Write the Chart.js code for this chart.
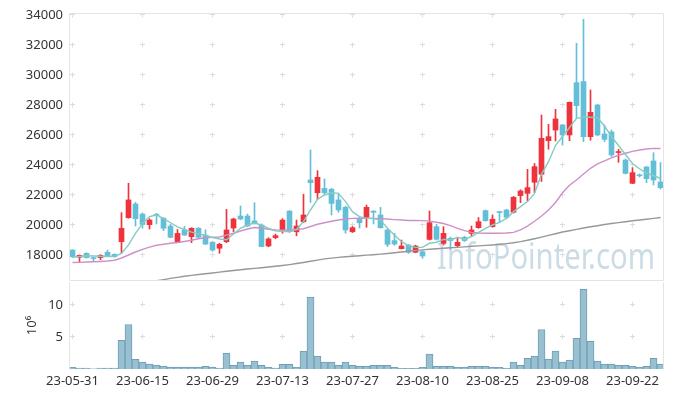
<!DOCTYPE html>
<html>
<head>
<meta charset="utf-8">
<script src="https://cdn.jsdelivr.net/npm/chart.js@4"></script>
<style>
  html, body { margin: 0; padding: 0; background: #fff; }
  #wrap { position: relative; width: 673px; height: 398px; }
  #priceChart { position: absolute; left: 0; top: 0; }
  #volChart { position: absolute; left: 0; top: 281px; }
</style>
</head>
<body>
<div id="wrap">
  <canvas id="priceChart" width="673" height="281"></canvas>
  <canvas id="volChart" width="673" height="117"></canvas>
</div>
<script>
// trading days
const dates = [
  '23-05-31','23-06-01','23-06-02','23-06-05','23-06-07','23-06-08','23-06-09','23-06-12','23-06-13','23-06-14',
  '23-06-15','23-06-16','23-06-19','23-06-20','23-06-21','23-06-22','23-06-23','23-06-26','23-06-27','23-06-28',
  '23-06-29','23-06-30','23-07-03','23-07-04','23-07-05','23-07-06','23-07-07','23-07-10','23-07-11','23-07-12',
  '23-07-13','23-07-14','23-07-17','23-07-18','23-07-19','23-07-20','23-07-21','23-07-24','23-07-25','23-07-26',
  '23-07-27','23-07-28','23-07-31','23-08-01','23-08-02','23-08-03','23-08-04','23-08-07','23-08-08','23-08-09',
  '23-08-10','23-08-11','23-08-14','23-08-16','23-08-17','23-08-18','23-08-21','23-08-22','23-08-23','23-08-24',
  '23-08-25','23-08-28','23-08-29','23-08-30','23-08-31','23-09-01','23-09-04','23-09-05','23-09-06','23-09-07',
  '23-09-08','23-09-11','23-09-12','23-09-13','23-09-14','23-09-15','23-09-18','23-09-19','23-09-20','23-09-21',
  '23-09-22','23-09-25','23-09-26','23-09-27','23-10-04'
];

const open = [
  18330,17850,18110,17800,17830,18180,18040,18890,20490,21400,
  20730,20020,20700,20450,19930,18890,19670,19220,19780,19330,
  18850,18450,18890,19800,20600,20600,20270,20000,18600,19160,
  19670,20930,19550,20220,23000,22150,22440,22380,21670,21180,
  19550,20440,20510,20930,20670,19670,18960,18420,18670,18180,
  18220,19040,19890,18780,19110,18620,19180,19440,19820,20960,
  19890,20870,21000,20850,21960,22110,22850,23380,25620,26330,
  26670,26000,29490,29560,25890,28000,26070,26200,24830,24330,
  22780,23330,23870,24270,22870
];
const high = [
  18350,18000,18150,17850,18020,18330,18080,20820,22780,21510,
  20800,20420,20780,20500,20050,19700,19900,19820,19830,19680,
  18900,18780,21040,20450,21270,20730,21480,20070,19150,19400,
  20420,20950,20330,22050,25000,23620,23070,22450,22070,21250,
  19900,20500,21330,20950,21180,19700,19450,19000,18700,18650,
  18300,20930,20050,19890,19200,19150,19250,19930,20500,21000,
  20670,20900,21050,21900,22350,23710,24100,27330,26710,27710,
  26700,28200,32110,33710,29000,28050,26670,26330,25050,24400,
  23820,23400,23900,24820,24160
];
const low = [
  17850,17560,17800,17620,17680,17900,17850,18110,20450,19930,
  19780,19730,20070,19620,19150,18850,19300,18820,19100,18700,
  18250,18110,18820,19550,20350,19900,20050,18550,18550,19080,
  19450,19500,19280,20150,21510,21700,22000,20670,20850,19450,
  19500,19800,19850,20070,19780,18560,18650,18400,18100,18150,
  17780,19000,19000,18700,18380,18500,18900,19220,19780,20250,
  19850,20150,20450,20800,21490,21600,22150,22900,25050,25600,
  25330,25620,27110,25560,25650,25950,25560,24560,24180,23400,
  22750,23200,22820,22670,22400
];
const close = [
  17890,17980,17820,17760,17980,17930,17890,19780,21670,20420,
  20040,20330,20650,19780,19180,19440,19330,19780,19180,18730,
  18330,18710,19670,20400,20400,19930,20110,18560,19070,19290,
  20330,19550,19930,20670,22820,23180,22150,21440,21000,19670,
  19820,20150,21180,20850,19820,18710,18730,18600,18180,18600,
  17930,20150,19050,19440,18960,18850,18960,19670,20220,20290,
  20380,20830,20510,21850,22270,22490,23890,25780,25890,27070,
  26000,28180,27960,25890,27510,26000,25710,24670,24870,23440,
  23490,23280,23090,23000,22490
];

// moving averages as drawn
const ma5 = [
  17850,17900,17950,17930,17920,17900,17900,18110,18670,19440,
  20110,20550,20680,20420,20150,19880,19700,19520,19420,19300,
  19170,19070,19020,19400,19780,20000,20130,20000,19780,19620,
  19560,19560,19710,20220,21000,21710,22000,22150,22110,21560,
  20890,20560,20440,20440,20330,19780,19330,18890,18620,18510,
  18510,18780,18850,19040,19000,19180,19040,19220,19510,19780,
  20000,20180,20440,20890,21220,21560,22110,23380,24220,25300,
  25900,26500,27110,27180,27180,27150,26600,25900,25300,24700,
  24100,23750,23450,23300,23100
];
const ma20 = [
  17500,17510,17530,17550,17570,17600,17650,17800,18000,18200,
  18380,18520,18650,18720,18780,18830,18900,18980,19080,19150,
  19180,19200,19320,19450,19600,19730,19830,19800,19720,19670,
  19660,19670,19680,19750,19900,20050,20150,20250,20330,20400,
  20440,20450,20440,20430,20420,20400,20360,20330,20300,20300,
  20290,20260,20180,20100,19960,19780,19620,19510,19470,19450,
  19450,19450,19470,19510,19670,19930,20250,20600,21000,21500,
  22150,22650,23000,23400,23780,24070,24270,24470,24650,24780,
  24910,25000,25070,25110,25100
];
const ma60 = [
  null,null,null,null,null,null,null,null,null,null,
  null,16200,16280,16360,16440,16510,16580,16640,16700,16750,
  16800,16860,16920,16970,17020,17070,17110,17150,17200,17250,
  17300,17360,17430,17500,17580,17660,17740,17790,17840,17880,
  17920,17950,17990,18020,18060,18100,18150,18200,18250,18300,
  18340,18380,18420,18450,18480,18510,18540,18580,18610,18640,
  18670,18710,18760,18820,18890,18980,19080,19190,19310,19420,
  19530,19620,19710,19800,19880,19950,20030,20100,20160,20220,
  20280,20330,20380,20440,20500
];

// volume, millions
const volume = [
  0.26,0.15,0.15,0.03,0.15,0.15,0.15,4.47,6.94,1.49,
  1.08,0.77,0.62,0.46,0.3,0.3,0.3,0.3,0.3,0.4,
  0.3,0.15,2.47,0.57,1.08,0.57,1.23,0.57,0.26,0.15,
  0.72,0.72,0.26,2.78,11.22,2.0,1.08,1.08,0.57,1.08,
  0.57,0.4,0.4,0.57,0.57,0.57,0.26,0.1,0.1,0.1,
  0.26,2.31,0.4,0.4,0.4,0.26,0.26,0.4,0.4,0.4,
  0.26,0.26,0.1,1.08,0.57,1.65,2.0,6.17,1.54,2.78,
  1.08,1.39,4.78,12.45,4.32,1.23,0.77,0.77,0.57,0.57,
  0.4,0.26,0.4,1.65,0.77
];

// axis ticks
const priceTicks = [18000, 20000, 22000, 24000, 26000, 28000, 30000, 32000, 34000];
const volTicks = [5, 10];

const UP = '#ef333d';
const DOWN = '#63bfd8';
const CROSS = '#dcdcdc';
const FRAME = '#e4e4e4';

Chart.defaults.font.family = '"Noto Sans", sans-serif';
Chart.defaults.font.size = 13;
Chart.defaults.color = '#333';

const candleColor = c => close[c.dataIndex] >= open[c.dataIndex] ? UP : DOWN;
const bodies = open.map((o, i) => [o, close[i]]);
const wicks = low.map((l, i) => [l, high[i]]);

// fixed-width y axis, no extra label padding
const fixY = s => { s.width = 69; s.paddingTop = 0; s.paddingBottom = 0; };

// plot frame
const frame = {
  id: 'frame',
  afterDraw(chart, args, opts) {
    const a = chart.chartArea, ctx = chart.ctx;
    const L = Math.floor(a.left) + 0.5, R = Math.floor(a.right) - 0.5;
    const T = Math.floor(a.top) + 0.5, B = Math.floor(a.bottom) - 0.5;
    ctx.save();
    ctx.strokeStyle = FRAME;
    ctx.lineWidth = 1;
    ctx.beginPath();
    if (opts.top) { ctx.moveTo(L, T); ctx.lineTo(R, T); }
    ctx.moveTo(L, T); ctx.lineTo(L, B + 1);
    ctx.moveTo(R, T); ctx.lineTo(R, B + 1);
    if (opts.bottom) { ctx.moveTo(L, B + 1); ctx.lineTo(R, B + 1); }
    ctx.stroke();
    ctx.restore();
  }
};

const watermark = {
  id: 'watermark',
  beforeDatasetsDraw(chart) {
    const a = chart.chartArea, ctx = chart.ctx;
    const txt = 'InfoPointer.com';
    ctx.save();
    ctx.font = '37px "Noto Sans"';
    ctx.fillStyle = '#cbdce6';
    ctx.textBaseline = 'alphabetic';
    const w = ctx.measureText(txt).width;
    ctx.translate(a.right - 227, a.bottom - 11.5);
    ctx.scale(218 / w, 1);
    ctx.fillText(txt, 0, 0);
    ctx.restore();
  }
};

const lineDs = (label, data, color) => ({
  type: 'line', label, data, borderColor: color, borderWidth: 1.4,
  pointRadius: 0, tension: 0, order: 0
});

new Chart(document.getElementById('priceChart'), {
  type: 'bar',
  data: {
    labels: dates,
    datasets: [
      lineDs('MA5', ma5, '#86cbc2'),
      lineDs('MA20', ma20, '#cf90c9'),
      lineDs('MA60', ma60, '#989898'),
      { label: 'body', data: bodies, backgroundColor: candleColor, barThickness: 5,
        minBarLength: 1, grouped: false, order: 1 },
      { label: 'wick', data: wicks, backgroundColor: candleColor, barThickness: 1,
        grouped: false, order: 2 }
    ]
  },
  options: {
    responsive: false,
    animation: false,
    layout: { padding: { top: 13, right: 9, left: 0, bottom: 0 } },
    plugins: {
      legend: { display: false },
      tooltip: { enabled: false },
      frame: { top: true, bottom: true }
    },
    scales: {
      x: {
        offset: true,
        ticks: { display: false, autoSkip: false },
        grid: {
          offset: false, drawTicks: false,
          color: c => c.index % 10 === 0 ? CROSS : 'transparent'
        },
        border: { display: false, dash: [5, 25], dashOffset: 0.5 },
        afterFit(s) { s.height = 1; s.paddingLeft = 0; s.paddingRight = 0; }
      },
      y: {
        min: 16333, max: 34133,
        afterBuildTicks(s) { s.ticks = priceTicks.map(v => ({ value: v })); },
        ticks: { padding: 6, callback: v => String(v) },
        grid: { drawTicks: false, color: CROSS },
        border: { display: false, dash: [5, 65], dashOffset: 69 },
        afterFit: fixY
      }
    }
  },
  plugins: [frame, watermark]
});

new Chart(document.getElementById('volChart'), {
  type: 'bar',
  data: {
    labels: dates,
    datasets: [{
      label: 'Volume', data: volume,
      backgroundColor: '#98c0d1', borderColor: '#6e9fb6', borderWidth: 1,
      barPercentage: 1, categoryPercentage: 1
    }]
  },
  options: {
    responsive: false,
    animation: false,
    layout: { padding: { top: 1, right: 9, left: 0, bottom: 0 } },
    plugins: {
      legend: { display: false },
      tooltip: { enabled: false },
      frame: { top: false, bottom: false }
    },
    scales: {
      x: {
        offset: true,
        ticks: {
          autoSkip: false, maxRotation: 0, padding: 4,
          callback: (v, i) => i % 10 === 0 ? dates[i] : ''
        },
        grid: {
          offset: false, drawTicks: false,
          color: c => c.index % 10 === 0 ? CROSS : 'transparent'
        },
        border: { display: false, dash: [5, 27.4], dashOffset: 12.6 },
        afterFit(s) { s.height = 29; s.paddingLeft = 0; s.paddingRight = 0; }
      },
      y: {
        min: 0, max: 13.58,
        afterBuildTicks(s) { s.ticks = volTicks.map(v => ({ value: v })); },
        ticks: { padding: 6, callback: v => String(v) },
        grid: { drawTicks: false, color: CROSS },
        border: { display: false, dash: [5, 65], dashOffset: 69 },
        title: { display: true, text: '10\u2076', padding: { top: 24, bottom: 0 } },
        afterFit: fixY
      }
    }
  },
  plugins: [frame]
});
</script>
</body>
</html>
